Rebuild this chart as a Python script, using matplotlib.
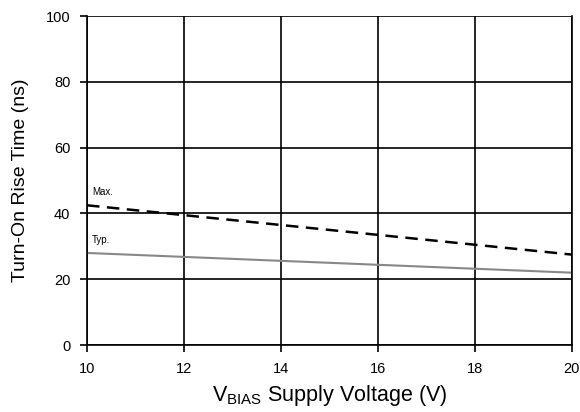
import matplotlib
matplotlib.use("Agg")
import matplotlib.pyplot as plt

plt.rcParams['font.family'] = ['Liberation Sans', 'DejaVu Sans']

vbias = [10, 20]
t_max = [42.5, 27.5]
t_typ = [28.0, 22.0]

fig = plt.figure(figsize=(5.8, 4.12), dpi=100)
ax = fig.add_axes([0.15, 0.1626, 0.836, 0.798])

ax.plot(vbias, t_max, color='black', lw=1.8, ls=(0, (5, 3)))
ax.plot(vbias, t_typ, color='#888888', lw=1.5)
ax.text(10.1, 45.5, 'Max.', fontsize=7)
ax.text(10.1, 31, 'Typ.', fontsize=7)

ax.set_xlim(10, 20)
ax.set_ylim(0, 100)
ax.set_xticks([10, 12, 14, 16, 18, 20])
ax.set_yticks([0, 20, 40, 60, 80, 100])
ax.grid(True, color='black', lw=1.2)
for s in ax.spines.values():
    s.set_linewidth(1.2)
ax.spines['top'].set_visible(False)
ax.tick_params(direction='out', length=5, width=1.2, labelsize=10.5, pad=7)

ax.set_xlabel(r'V$_{\mathregular{BIAS}}$ Supply Voltage (V)', fontsize=15.5, labelpad=5)
ax.set_ylabel('Turn-On Rise Time (ns)', fontsize=14, labelpad=12)

fig.savefig('out.png', dpi=100)
